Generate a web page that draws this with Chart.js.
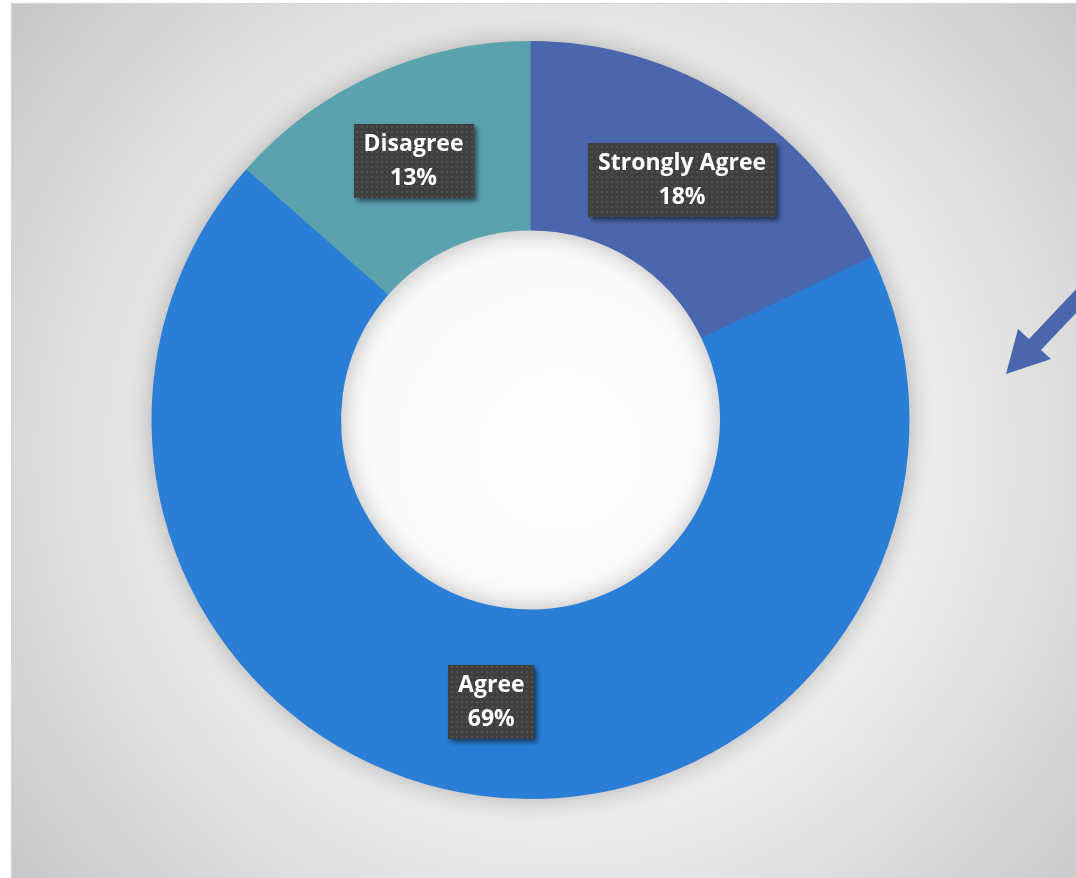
<!DOCTYPE html>
<html><head><meta charset="utf-8">
<script src="https://cdn.jsdelivr.net/npm/chart.js@4"></script>
<style>html,body{margin:0;padding:0;background:#fff;overflow:hidden}
#wrap{position:absolute;left:0;top:0;width:1076px;height:878px}</style>
</head><body><div id="wrap"><canvas id="c"></canvas></div>
<script>
const categories = ['Strongly Agree', 'Agree', 'Disagree'];
const shares = [17.9, 68.6, 13.5];
const shareLabels = ['18%', '69%', '13%'];
const sliceColors = ['#4A66AC', '#2A7ED6', '#5AA2AE'];

const FONT = 'bold 23px "Open Sans", Lato, sans-serif';

function dotPattern(ctx) {
  const p = document.createElement('canvas');
  p.width = 5; p.height = 5;
  const g = p.getContext('2d');
  g.fillStyle = '#3f3f3f'; g.fillRect(0, 0, 5, 5);
  g.fillStyle = '#515151'; g.fillRect(1, 1, 2, 2);
  return ctx.createPattern(p, 'repeat');
}

const bgPlugin = {
  id: 'bg',
  beforeDraw(chart) {
    const ctx = chart.ctx, w = chart.width, h = chart.height;
    ctx.save();
    ctx.fillStyle = '#ffffff';
    ctx.fillRect(0, 0, w, h);
    const g = ctx.createRadialGradient(560, 450, 0, 560, 450, 720);
    g.addColorStop(0, '#ffffff');
    g.addColorStop(0.28, '#fafafa');
    g.addColorStop(0.58, '#e7e7e7');
    g.addColorStop(1, '#c5c5c5');
    ctx.fillStyle = g;
    ctx.fillRect(11, 3, w - 11, h - 3);
    ctx.strokeStyle = '#d2d2d2';
    ctx.lineWidth = 1;
    ctx.beginPath();
    ctx.moveTo(11.5, h); ctx.lineTo(11.5, 3.5); ctx.lineTo(w, 3.5);
    ctx.stroke();
    ctx.restore();
  }
};

const shadowPlugin = {
  id: 'ringShadow',
  beforeDatasetsDraw(chart) {
    const arc = chart.getDatasetMeta(0).data[0];
    if (!arc) return;
    const { x, y, outerRadius, innerRadius } = arc.getProps(['x', 'y', 'outerRadius', 'innerRadius'], true);
    const ctx = chart.ctx;
    ctx.save();
    ctx.shadowColor = 'rgba(0,0,0,0.28)';
    ctx.shadowBlur = 26;
    ctx.fillStyle = '#2A7ED6';
    ctx.beginPath();
    ctx.arc(x, y, outerRadius - 1, 0, Math.PI * 2);
    ctx.arc(x, y, innerRadius + 1, 0, Math.PI * 2, true);
    ctx.fill('evenodd');
    ctx.restore();
  }
};

const labelPlugin = {
  id: 'sliceLabels',
  afterDatasetsDraw(chart) {
    const ctx = chart.ctx;
    const pat = dotPattern(ctx);
    chart.getDatasetMeta(0).data.forEach((arc, i) => {
      const c = arc.getCenterPoint();
      const l1 = categories[i], l2 = shareLabels[i];
      ctx.save();
      ctx.font = FONT;
      const tw = Math.max(ctx.measureText(l1).width, ctx.measureText(l2).width);
      const bw = Math.round(tw + 20), bh = 74;
      const bx = Math.round(c.x - bw / 2), by = Math.round(c.y - bh / 2);
      ctx.shadowColor = 'rgba(0,0,0,0.55)';
      ctx.shadowBlur = 5;
      ctx.shadowOffsetX = 3;
      ctx.shadowOffsetY = 3;
      ctx.fillStyle = pat;
      ctx.fillRect(bx, by, bw, bh);
      ctx.shadowColor = 'transparent';
      ctx.fillStyle = '#ffffff';
      ctx.textAlign = 'center';
      ctx.textBaseline = 'middle';
      ctx.fillText(l1, c.x, c.y - 16);
      ctx.fillText(l2, c.x, c.y + 18);
      ctx.restore();
    });
  }
};

const arrowPlugin = {
  id: 'arrow',
  afterDraw(chart) {
    const ctx = chart.ctx;
    ctx.save();
    ctx.fillStyle = '#4A66AC';
    ctx.beginPath();
    ctx.moveTo(1006, 374);
    ctx.lineTo(1018, 329);
    ctx.lineTo(1029, 339);
    ctx.lineTo(1098, 266);
    ctx.lineTo(1110, 277);
    ctx.lineTo(1041, 350);
    ctx.lineTo(1051, 359);
    ctx.closePath();
    ctx.fill();
    ctx.restore();
  }
};

new Chart(document.getElementById('c'), {
  type: 'doughnut',
  data: {
    labels: categories,
    datasets: [{
      data: shares,
      backgroundColor: sliceColors,
      borderWidth: 0,
      hoverOffset: 0
    }]
  },
  options: {
    responsive: true,
    maintainAspectRatio: false,
    animation: false,
    cutout: '50%',
    layout: { padding: { left: 151.5, right: 166.5, top: 41, bottom: 79 } },
    plugins: { legend: { display: false }, tooltip: { enabled: false } }
  },
  plugins: [bgPlugin, shadowPlugin, labelPlugin, arrowPlugin]
});
</script></body></html>
